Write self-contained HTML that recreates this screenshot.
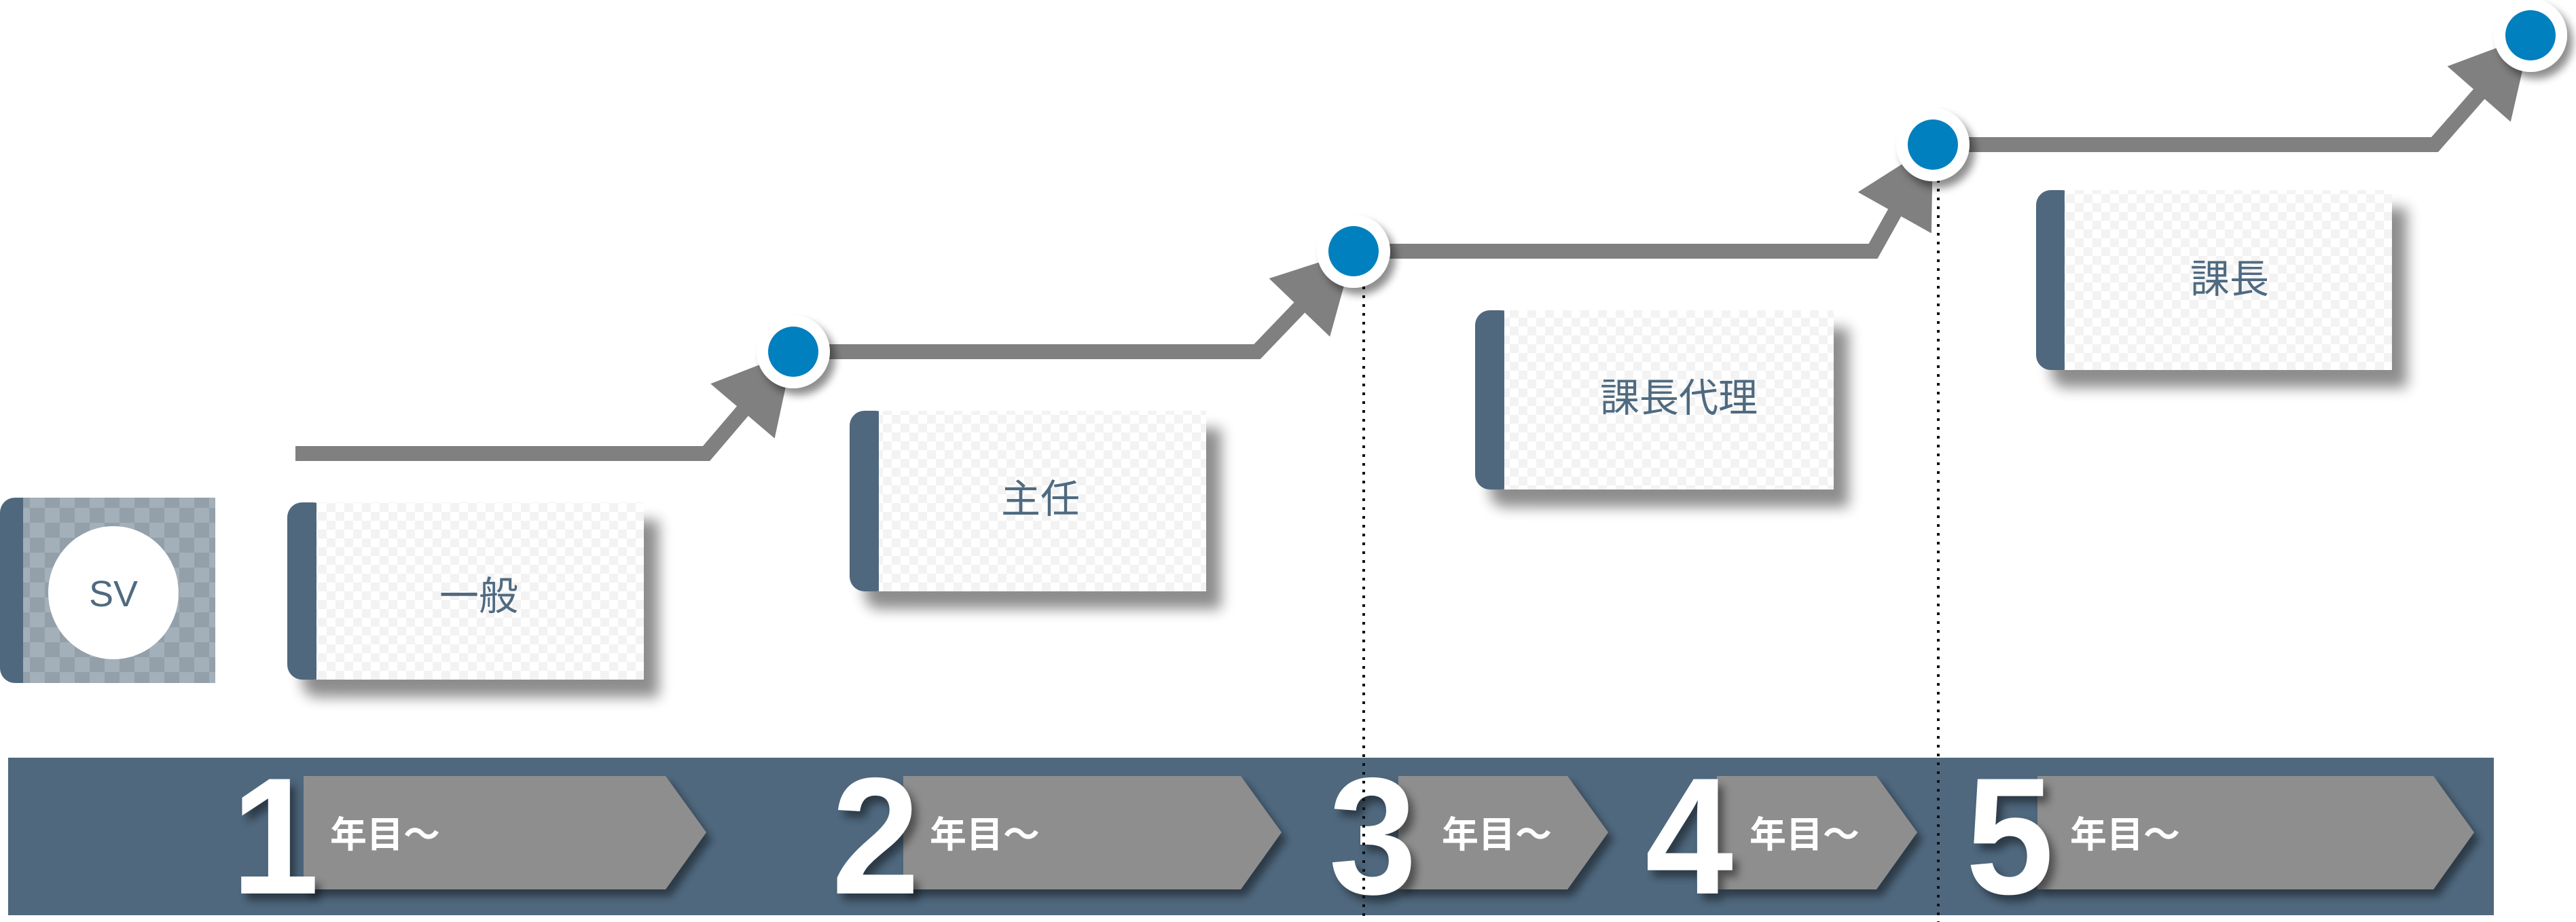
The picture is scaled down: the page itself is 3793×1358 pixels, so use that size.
<!DOCTYPE html>
<html><head><meta charset="utf-8"><style>
html,body{margin:0;padding:0;background:#fff;}
svg{display:block;}
.lbl{font-family:"Liberation Sans","Noto Sans CJK JP",sans-serif;fill:#4f6a80;font-size:58px;text-anchor:middle;}
.num{font-family:"Liberation Sans",sans-serif;font-weight:bold;fill:#fff;font-size:245px;}
.yr{font-family:"Liberation Sans","Noto Sans CJK JP",sans-serif;font-weight:bold;fill:#fff;font-size:54px;}
</style></head><body>
<svg width="3793" height="1358" viewBox="0 0 3793 1358" xmlns="http://www.w3.org/2000/svg">
<defs>
<pattern id="ck" width="26" height="26" patternUnits="userSpaceOnUse">
<rect width="26" height="26" fill="#ffffff"/><rect width="13" height="13" fill="#f3f3f3"/><rect x="13" y="13" width="13" height="13" fill="#f3f3f3"/>
</pattern>
<pattern id="ck2" width="44" height="44" patternUnits="userSpaceOnUse">
<rect width="44" height="44" fill="#a3afb9"/><rect width="22" height="22" fill="#939fa9"/><rect x="22" y="22" width="22" height="22" fill="#939fa9"/>
</pattern>
<filter id="sh" x="-20%" y="-20%" width="150%" height="160%">
<feGaussianBlur in="SourceAlpha" stdDeviation="10"/><feOffset dx="22" dy="26"/>
<feComponentTransfer><feFuncA type="linear" slope="0.45"/></feComponentTransfer>
<feMerge><feMergeNode/><feMergeNode in="SourceGraphic"/></feMerge>
</filter>
<filter id="sh2" x="-30%" y="-30%" width="170%" height="170%">
<feGaussianBlur in="SourceAlpha" stdDeviation="6"/><feOffset dx="8" dy="10"/>
<feComponentTransfer><feFuncA type="linear" slope="0.45"/></feComponentTransfer>
<feMerge><feMergeNode/><feMergeNode in="SourceGraphic"/></feMerge>
</filter>
</defs>

<rect x="0" y="733" width="60" height="273" rx="22" fill="#4f687e"/>
<rect x="34" y="733" width="283" height="273" fill="url(#ck2)"/>
<ellipse cx="167" cy="873" rx="96" ry="98" fill="#fff"/>
<text x="167" y="893" class="lbl" style="font-size:54px">SV</text>

<g filter="url(#sh)">
<rect x="423" y="740" width="60" height="261" rx="22" fill="#4f687e"/>
<rect x="466" y="740" width="482" height="261" fill="url(#ck)"/>
</g>
<text x="705" y="898" class="lbl">一般</text>

<g filter="url(#sh)">
<rect x="1251" y="605" width="60" height="266" rx="22" fill="#4f687e"/>
<rect x="1294" y="605" width="482" height="266" fill="url(#ck)"/>
</g>
<text x="1532" y="755" class="lbl">主任</text>

<g filter="url(#sh)">
<rect x="2172" y="457" width="60" height="264" rx="22" fill="#4f687e"/>
<rect x="2215" y="457" width="485" height="264" fill="url(#ck)"/>
</g>
<text x="2472" y="606" class="lbl">課長代理</text>

<g filter="url(#sh)">
<rect x="2998" y="280" width="60" height="265" rx="22" fill="#4f687e"/>
<rect x="3040" y="280" width="482" height="265" fill="url(#ck)"/>
</g>
<text x="3283" y="431" class="lbl">課長</text>

<rect x="12" y="1116" width="3660" height="232" fill="#4f687e"/>

<g filter="url(#sh2)">
<polygon points="447,1143 980,1143 1040,1226 980,1310 447,1310" fill="#8e8e8e"/>
<polygon points="1330,1143 1827,1143 1887,1226 1827,1310 1330,1310" fill="#8e8e8e"/>
<polygon points="2059,1143 2308,1143 2368,1226 2308,1310 2059,1310" fill="#8e8e8e"/>
<polygon points="2528,1143 2763,1143 2823,1226 2763,1310 2528,1310" fill="#8e8e8e"/>
<polygon points="3000,1143 3583,1143 3643,1226 3583,1310 3000,1310" fill="#8e8e8e"/>
</g>
<g filter="url(#sh2)">
<text class="num" text-anchor="end" transform="translate(470,1316) scale(0.95,1)">1</text>
<text class="num" text-anchor="end" transform="translate(1354,1316) scale(0.95,1)">2</text>
<text class="num" text-anchor="end" transform="translate(2086,1316) scale(0.95,1)">3</text>
<text class="num" text-anchor="end" transform="translate(2552,1316) scale(0.95,1)">4</text>
<text class="num" text-anchor="end" transform="translate(3024,1316) scale(0.95,1)">5</text>
</g>
<text class="yr" x="486" y="1248">年目〜</text>
<text class="yr" x="1369" y="1248">年目〜</text>
<text class="yr" x="2123" y="1248">年目〜</text>
<text class="yr" x="2576" y="1248">年目〜</text>
<text class="yr" x="3048" y="1248">年目〜</text>

<line x1="2008" y1="370" x2="2008" y2="1358" stroke="#111" stroke-width="4" stroke-dasharray="4,9"/>
<line x1="2854" y1="213" x2="2854" y2="1358" stroke="#111" stroke-width="4" stroke-dasharray="4,9"/>

<polyline points="435,668 1040,668 1168,518 1851,518 1993,370 2758,370 2846,213 3585,213 3726,52" fill="none" stroke="#808080" stroke-width="22" stroke-linejoin="miter"/>
<polygon points="1168,518 1140.6,645.7 1046.2,565.3" fill="#808080"/>
<polygon points="1993,370 1958.2,495.9 1868.6,410.1" fill="#808080"/>
<polygon points="2846,213 2843.9,343.6 2735.7,283" fill="#808080"/>
<polygon points="3726,52 3696.8,179.4 3603.6,97.6" fill="#808080"/>

<g filter="url(#sh2)">
<circle cx="1168" cy="518" r="54" fill="#fff"/>
<circle cx="1993" cy="370" r="54" fill="#fff"/>
<circle cx="2846" cy="213" r="54" fill="#fff"/>
<circle cx="3726" cy="52" r="54" fill="#fff"/>
</g>
<circle cx="1168" cy="518" r="37" fill="#0080be"/>
<circle cx="1993" cy="370" r="37" fill="#0080be"/>
<circle cx="2846" cy="213" r="37" fill="#0080be"/>
<circle cx="3726" cy="52" r="37" fill="#0080be"/>
</svg>
</body></html>
